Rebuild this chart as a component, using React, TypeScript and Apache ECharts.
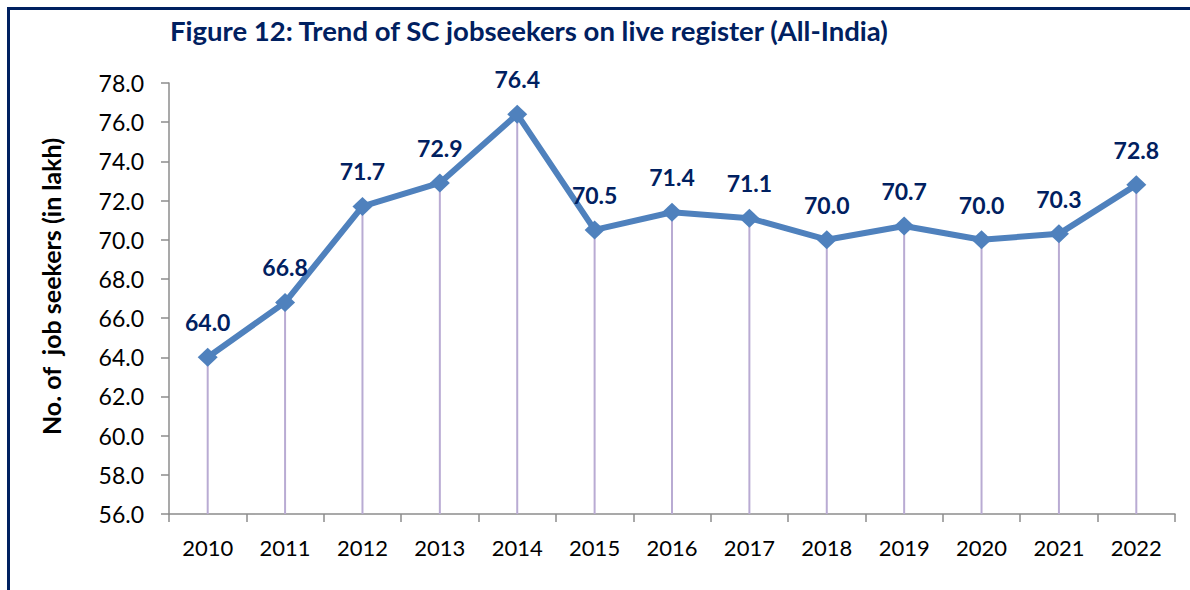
import React, { useEffect, useRef } from "react";
import * as echarts from "echarts";

const years = ["2010", "2011", "2012", "2013", "2014", "2015", "2016", "2017", "2018", "2019", "2020", "2021", "2022"];
const seekers = [64.0, 66.8, 71.7, 72.9, 76.4, 70.5, 71.4, 71.1, 70.0, 70.7, 70.0, 70.3, 72.8];
const titleText = "Figure 12: Trend of SC jobseekers on live register (All-India)";
const yName = "No. of  job seekers (in lakh)";

export default function App() {
  const ref = useRef<HTMLDivElement>(null);
  useEffect(() => {
    document.body.style.margin = "0";
    const chart = echarts.init(ref.current!, undefined, { renderer: "svg" });
    chart.setOption({
      animation: false,
      backgroundColor: "#ffffff",
      textStyle: { fontFamily: "Lato" },
      title: {
        text: titleText,
        left: 165,
        top: 11,
        textStyle: { fontFamily: "Lato", fontSize: 27.5, fontWeight: "bold", color: "#002060" },
      },
      graphic: [
        { type: "line", shape: { x1: 8.5, y1: 7, x2: 8.5, y2: 590 }, style: { stroke: "#002060", lineWidth: 3 } },
        { type: "line", shape: { x1: 7, y1: 8.5, x2: 1190, y2: 8.5 }, style: { stroke: "#002060", lineWidth: 3 } },
      ],
      grid: { left: 169, right: 15, top: 83, bottom: 76 },
      xAxis: {
        type: "category",
        data: years,
        boundaryGap: true,
        axisLine: { lineStyle: { color: "#8c8c8c", width: 1.5 } },
        axisTick: { show: true, length: 8, lineStyle: { color: "#8c8c8c", width: 1.5 } },
        axisLabel: { color: "#000", fontSize: 22, margin: 22, fontFamily: "Lato" },
      },
      yAxis: {
        type: "value",
        min: 56,
        max: 78,
        interval: 2,
        name: yName,
        nameLocation: "middle",
        nameGap: 106,
        nameTextStyle: {
          fontSize: 25,
          fontWeight: "bold",
          color: "#000",
          fontFamily: "Lato",
          padding: [0, 0, 0, 24],
        },
        splitLine: { show: false },
        axisLine: { show: true, lineStyle: { color: "#8c8c8c", width: 1.5 } },
        axisTick: { show: true, length: 8, lineStyle: { color: "#8c8c8c", width: 1.5 } },
        axisLabel: {
          color: "#000",
          fontSize: 23,
          margin: 25,
          fontFamily: "Lato",
          formatter: (v: number) => v.toFixed(1),
        },
      },
      series: [
        {
          type: "bar",
          data: seekers,
          barWidth: 2,
          itemStyle: { color: "#b9abd3" },
          silent: true,
          z: 1,
        },
        {
          type: "line",
          data: seekers,
          symbol: "diamond",
          symbolSize: [20, 19],
          lineStyle: { color: "#4f81bd", width: 6 },
          itemStyle: { color: "#4f81bd" },
          z: 3,
          label: {
            show: true,
            position: "top",
            distance: 14,
            fontSize: 23,
            fontWeight: "bold",
            color: "#002060",
            fontFamily: "Lato",
            formatter: (p: any) => p.value.toFixed(1),
          },
        },
      ],
    });
    return () => chart.dispose();
  }, []);
  return <div ref={ref} style={{ width: 1190, height: 590 }} />;
}
